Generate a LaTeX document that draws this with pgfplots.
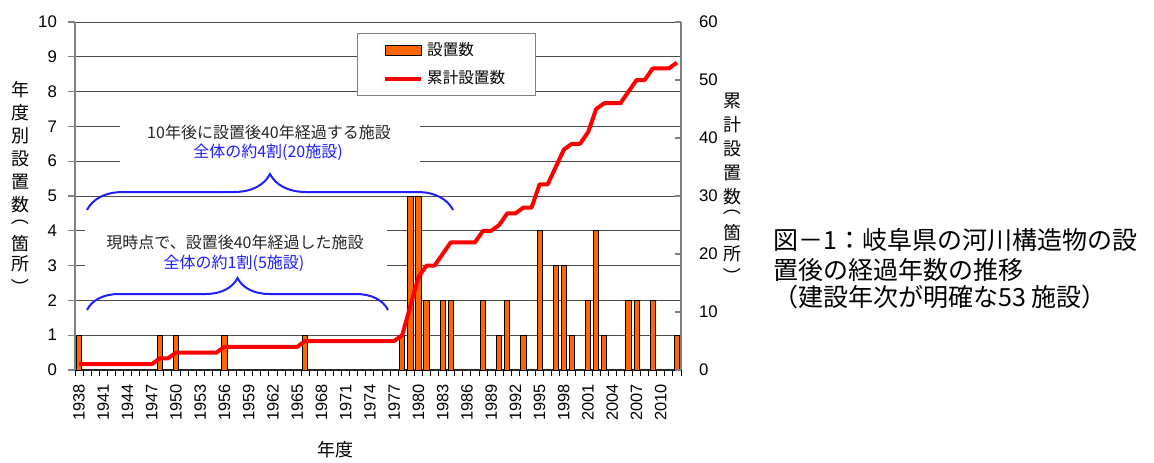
\documentclass[border=0pt]{standalone}
\usepackage{pgfplots}
\pgfplotsset{compat=1.18}
\usepackage{graphicx}
\usepackage{fontspec}
\setmainfont{Liberation Sans}
\newfontfamily\jp{Noto Sans CJK JP}
\usetikzlibrary{decorations.pathreplacing}
\definecolor{barorange}{RGB}{255,102,0}
\definecolor{linered}{RGB}{255,0,0}
\definecolor{anblue}{RGB}{30,30,255}
\newcommand{\vlp}{\rotatebox[origin=c]{-90}{（}}
\newcommand{\vrp}{\rotatebox[origin=c]{-90}{）}}

\pgfplotstableread{
year count
1938 1
1948 1
1950 1
1956 1
1966 1
1978 1
1979 5
1980 5
1981 2
1983 2
1984 2
1988 2
1990 1
1991 2
1993 1
1995 4
1997 3
1998 3
1999 1
2001 2
2002 4
2003 1
2006 2
2007 2
2009 2
2012 1
}\bars

\pgfplotstableread{
year cum
1938 1
1939 1
1940 1
1941 1
1942 1
1943 1
1944 1
1945 1
1946 1
1947 1
1948 2
1949 2
1950 3
1951 3
1952 3
1953 3
1954 3
1955 3
1956 4
1957 4
1958 4
1959 4
1960 4
1961 4
1962 4
1963 4
1964 4
1965 4
1966 5
1967 5
1968 5
1969 5
1970 5
1971 5
1972 5
1973 5
1974 5
1975 5
1976 5
1977 5
1978 6
1979 11
1980 16
1981 18
1982 18
1983 20
1984 22
1985 22
1986 22
1987 22
1988 24
1989 24
1990 25
1991 27
1992 27
1993 28
1994 28
1995 32
1996 32
1997 35
1998 38
1999 39
2000 39
2001 41
2002 45
2003 46
2004 46
2005 46
2006 48
2007 50
2008 50
2009 52
2010 52
2011 52
2012 53
}\cumul

\begin{document}
\begin{tikzpicture}[x=0.5pt,y=0.5pt]
\path[use as bounding box] (0,0) rectangle (1154,462);

\begin{axis}[
 at={(37.5pt,46pt)}, anchor=south west,
 scale only axis, width=303pt, height=174pt,
 xmin=1937.5, xmax=2012.5, ymin=0, ymax=10,
 axis x line*=bottom, axis y line*=left,
 x axis line style={black!85, -, line width=0.6pt},
 y axis line style={gray, -, line width=0.8pt},
 tick align=outside,
 ytick={0,1,...,10},
 ymajorgrids, grid style={black!70, line width=0.5pt},
 xtick={1938,1941,...,2010},
 minor xtick={1937.5,1938.5,...,2012.5},
 major x tick style={draw=none},
 minor x tick style={black, line width=0.5pt},
 minor tick length=3pt,
 major y tick style={gray, line width=0.6pt},
 major tick length=3.5pt,
 xticklabel style={rotate=90, anchor=east, font=\fontsize{8.2}{9}\selectfont},
 yticklabel style={font=\fontsize{8.4}{9}\selectfont, xshift=-2pt},
 /pgf/number format/1000 sep={},
 /pgf/number format/assume math mode=true,
 legend style={at={(0.465,0.968)}, anchor=north west, draw=gray, fill=white,
   font=\jp\fontsize{7.8}{9}\selectfont, inner xsep=13pt, inner ysep=2.5pt, row sep=2pt},
 legend cell align=left,
]
\addplot[ybar, bar width=2.6pt, fill=barorange, draw=black, line width=0.4pt,
  legend image code/.code={\draw[fill=barorange, draw=black, line width=0.6pt] (0pt,-2.5pt) rectangle (18pt,2.5pt);}]
  table[x=year, y=count] {\bars};
\addlegendentry{設置数\hspace{6pt}}
\addlegendimage{legend image code/.code={\draw[linered, line width=2pt] (0pt,0pt) -- (18pt,0pt);}}
\addlegendentry{累計設置数\hspace{6pt}}
\end{axis}

\begin{axis}[
 at={(37.5pt,46pt)}, anchor=south west,
 scale only axis, width=303pt, height=174pt,
 xmin=1937.5, xmax=2012.5, ymin=0, ymax=60,
 axis y line*=right, axis x line=none,
 y axis line style={gray, -, line width=0.8pt},
 ytick={0,10,...,60},
 tick align=inside,
 major tick length=3pt,
 major y tick style={gray, line width=0.6pt},
 yticklabel style={font=\fontsize{8.4}{9}\selectfont, xshift=5.5pt},
 /pgf/number format/assume math mode=true,
]
\addplot[linered, line width=2pt, line join=round, mark=none] table[x=year, y=cum] {\cumul};
\end{axis}

% annotation backgrounds
\fill[white] (120,292) rectangle (420,347);
\fill[white] (85,183) rectangle (387,236);

\node[font=\jp\fontsize{8}{9}\selectfont, text=black!85] at (269,330) {10年後に設置後40年経過する施設};
\node[font=\jp\fontsize{8}{9}\selectfont, text=anblue] at (268,310) {全体の約4割(20施設)};
\node[font=\jp\fontsize{8}{9}\selectfont, text=black!85] at (235,220) {現時点で、設置後40年経過した施設};
\node[font=\jp\fontsize{8}{9}\selectfont, text=anblue] at (234,199) {全体の約1割(5施設)};

\draw[anblue, line width=1pt, decorate, decoration={brace, amplitude=18pt}] (87,252) -- (453,252);
\draw[anblue, line width=1pt, decorate, decoration={brace, amplitude=16pt}] (87,152) -- (388,152);

% axis titles (vertical, one character per node; y measured from the top)
\begin{scope}[every node/.style={font=\jp\fontsize{9}{10}\selectfont, inner sep=0}]
\foreach \c/\yy in {年/90, 度/113, 別/136, 設/159, 置/182, 数/205, 箇/244, 所/264}
  \node at (20,462-\yy) {\c};
\node at (20,462-225+9) {\vlp};
\node at (20,462-278-9) {\vrp};
\foreach \c/\yy in {累/101, 計/125, 設/149, 置/173, 数/197, 箇/233, 所/254}
  \node at (732,462-\yy) {\c};
\node at (732,462-215+9) {\vlp};
\node at (732,462-267-9) {\vrp};
\end{scope}
\node[font=\jp\fontsize{9}{11}\selectfont] at (335,12) {年度};

% caption
\node[font=\jp\fontsize{12.5}{14}\selectfont, anchor=base west, inner sep=0] at (773,213) {図－1：岐阜県の河川構造物の設};
\node[font=\jp\fontsize{12.5}{14}\selectfont, anchor=base west, inner sep=0] at (773,183) {置後の経過年数の推移};
\node[font=\jp\fontsize{12.5}{14}\selectfont, anchor=base west, inner sep=0] at (773,156) {（建設年次が明確な53 施設）};
\end{tikzpicture}
\end{document}
